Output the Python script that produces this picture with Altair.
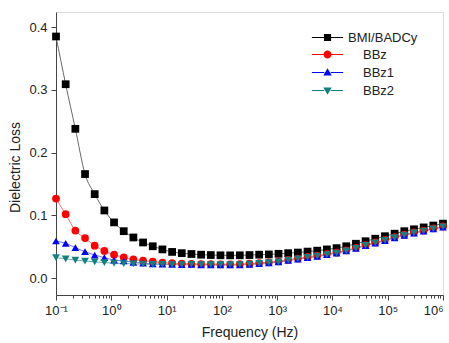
import altair as alt
import pandas as pd

freq = [0.1, 0.1496, 0.2239, 0.3350, 0.5012, 0.7499, 1.122, 1.679, 2.512, 3.758,
        5.623, 8.414, 12.59, 18.84, 28.18, 42.17, 63.10, 94.41, 141.3, 211.3,
        316.2, 473.2, 707.9, 1059, 1585, 2371, 3548, 5309, 7943, 11885,
        17783, 26607, 39811, 59566, 89125, 133352, 199526, 298538, 446684, 668344, 1000000]

bmi_badcy = [0.385, 0.309, 0.238, 0.166, 0.134, 0.108, 0.089, 0.075, 0.065, 0.057,
             0.051, 0.046, 0.042, 0.040, 0.0387, 0.0376, 0.037, 0.0366, 0.0365, 0.0366,
             0.037, 0.0376, 0.038, 0.039, 0.040, 0.041, 0.0425, 0.044, 0.046, 0.048,
             0.051, 0.055, 0.059, 0.063, 0.067, 0.071, 0.075, 0.078, 0.081, 0.084, 0.087]
bbz = [0.127, 0.102, 0.076, 0.064, 0.052, 0.0435, 0.0376, 0.0334, 0.030, 0.028,
       0.0265, 0.025, 0.024, 0.0235, 0.023, 0.0225, 0.0225, 0.0223, 0.0223, 0.0225,
       0.0233, 0.0243, 0.0255, 0.027, 0.0295, 0.0315, 0.034, 0.036, 0.0385, 0.041,
       0.0445, 0.0485, 0.053, 0.057, 0.061, 0.0655, 0.0695, 0.073, 0.076, 0.0795, 0.0825]
bbz1 = [0.0594, 0.0557, 0.0487, 0.0424, 0.037, 0.033, 0.029, 0.0276, 0.0255, 0.024,
        0.023, 0.0225, 0.022, 0.0218, 0.022, 0.0215, 0.0215, 0.0213, 0.0213, 0.0215,
        0.0223, 0.0233, 0.0245, 0.026, 0.0285, 0.0305, 0.033, 0.035, 0.0375, 0.04,
        0.0435, 0.0475, 0.052, 0.056, 0.06, 0.0645, 0.0685, 0.072, 0.075, 0.0785, 0.0815]
bbz2 = [0.033, 0.031, 0.029, 0.0275, 0.026, 0.025, 0.024, 0.0235, 0.023, 0.0225,
        0.022, 0.022, 0.0218, 0.0216, 0.0222, 0.0218, 0.0218, 0.0216, 0.0216, 0.0218,
        0.0226, 0.0236, 0.0248, 0.0263, 0.0288, 0.0308, 0.0333, 0.0353, 0.0378, 0.0403,
        0.0438, 0.0478, 0.0523, 0.0563, 0.0603, 0.0648, 0.0688, 0.0723, 0.0753, 0.0788, 0.0818]

series_names = ["BMI/BADCy", "BBz", "BBz1", "BBz2"]
marker_colors = ["#000000", "#ff0000", "#0000ff", "#128080"]
line_colors = ["#6a6a6a", "#ff7070", "#7070ff", "#70b0b0"]
shapes = ["square", "circle", "triangle-up", "triangle-down"]

x_major = [0.1, 1, 10, 100, 1000, 10000, 100000, 1000000]
x_tick_labels = ["10\u207b\u00b9", "10\u2070", "10\u00b9", "10\u00b2", "10\u00b3",
                 "10\u2074", "10\u2075", "10\u2076"]
y_ticks = [0.0, 0.05, 0.1, 0.15, 0.2, 0.25, 0.3, 0.35, 0.4]

x_minor = [m * 10 ** k for k in range(-1, 6) for m in range(2, 10)]
x_values = sorted(x_major + x_minor)

rows = []
for name, vals in zip(series_names, [bmi_badcy, bbz, bbz1, bbz2]):
    for f, v in zip(freq, vals):
        rows.append({"series": name, "freq": f, "loss": v})
df = pd.DataFrame(rows)

FONT = "Liberation Sans"

lbl_arr = "[" + ",".join("'" + s + "'" for s in x_tick_labels) + "]"
is_major_x = "abs(log(datum.value)/LN10 - round(log(datum.value)/LN10)) < 0.001"
x_axis = alt.Axis(
    values=x_values,
    labelExpr=f"{is_major_x} ? {lbl_arr}[round(log(datum.value)/LN10)+1] : ''",
    tickSize={"condition": {"test": is_major_x, "value": 5}, "value": 3},
    labelAlign={"condition": {"test": "datum.value >= 999999", "value": "right"}, "value": "center"},
    title="Frequency (Hz)", titleFontSize=14, titleFont=FONT, titleFontWeight="normal",
    titleColor="#222", titlePadding=8,
    labelFont=FONT, labelFontSize=13, labelColor="#222", labelOverlap=False,
    labelPadding=4, grid=False, domainColor="#444", tickColor="#444", labelFlush=False,
)
is_major_y = "abs(datum.value*10 - round(datum.value*10)) < 0.001"
y_axis = alt.Axis(
    values=y_ticks,
    labelExpr=f"{is_major_y} ? format(datum.value, '.1f') : ''",
    tickSize={"condition": {"test": is_major_y, "value": 5}, "value": 3},
    title="Dielectric Loss", titleFontSize=14, titleFont=FONT, titleFontWeight="normal",
    titleColor="#222", titlePadding=6, titleY=155,
    labelFont=FONT, labelFontSize=13, labelColor="#222", labelPadding=4,
    grid=False, domainColor="#444", tickColor="#444",
)

xs = alt.Scale(type="log", domain=[0.1, 1e6], nice=False)
ys = alt.Scale(domain=[-0.0266, 0.424], nice=False, zero=False)

base = alt.Chart(df).encode(
    x=alt.X("freq:Q", scale=xs, axis=x_axis),
    y=alt.Y("loss:Q", scale=ys, axis=y_axis),
)

lines = base.mark_line(strokeWidth=1, interpolate="monotone").encode(
    stroke=alt.Stroke("series:N", scale=alt.Scale(domain=series_names, range=line_colors), legend=None),
    detail="series:N",
)
points = base.mark_point(filled=True, size=60, opacity=1).encode(
    color=alt.Color("series:N", scale=alt.Scale(domain=series_names, range=marker_colors), legend=None),
    shape=alt.Shape("series:N", scale=alt.Scale(domain=series_names, range=shapes), legend=None),
    order=alt.Order("order:Q"),
).transform_calculate(
    order=f"indexof({series_names}, datum.series)"
)

# legend symbols: short line with marker, size 64 -> 4 px per path unit
seg = "M-3.9,-0.13H-0.8V0.13H-3.9ZM0.8,-0.13H3.9V0.13H0.8Z"
legend_paths = [
    seg + "M-0.9,-0.9H0.9V0.9H-0.9Z",
    seg + "M1,0A1,1,0,1,1,-1,0A1,1,0,1,1,1,0Z",
    seg + "M0,-1.05L1.05,0.75L-1.05,0.75Z",
    seg + "M0,1.05L1.05,-0.75L-1.05,-0.75Z",
]


def make_legend(y, offset):
    return alt.Legend(
        title=None, orient="none", legendX=265, legendY=y, padding=0,
        symbolSize=64, symbolOpacity=1, symbolStrokeWidth=0,
        labelFont=FONT, labelFontSize=13, labelColor="#222", labelOffset=offset,
        rowPadding=4,
    )


def legend_layer(names, cols, paths, leg):
    return alt.Chart(df).transform_filter(
        alt.FieldOneOfPredicate(field="series", oneOf=names)
    ).transform_filter("datum.freq == 0.1").mark_point(filled=True, opacity=0).encode(
        x=alt.X("freq:Q", scale=xs),
        y=alt.Y("loss:Q", scale=ys),
        color=alt.Color("series:N", scale=alt.Scale(domain=names, range=cols), legend=leg),
        shape=alt.Shape("series:N", scale=alt.Scale(domain=names, range=paths), legend=leg),
    )


leg_a = legend_layer(series_names[:1], marker_colors[:1], legend_paths[:1], make_legend(19, 14))
leg_b = legend_layer(series_names[1:], marker_colors[1:], legend_paths[1:], make_legend(36, 29))

chart = alt.layer(lines, points, leg_a, leg_b).resolve_scale(
    shape="independent", color="independent"
).properties(
    width=387, height=283,
    autosize=alt.AutoSizeParams(type="none"),
    padding={"left": 56, "top": 12, "right": 6, "bottom": 48},
).configure_view(
    stroke="#444", strokeWidth=1
).configure(background="white")

chart.save("out.html", embed_options={"renderer": "svg", "actions": False})
